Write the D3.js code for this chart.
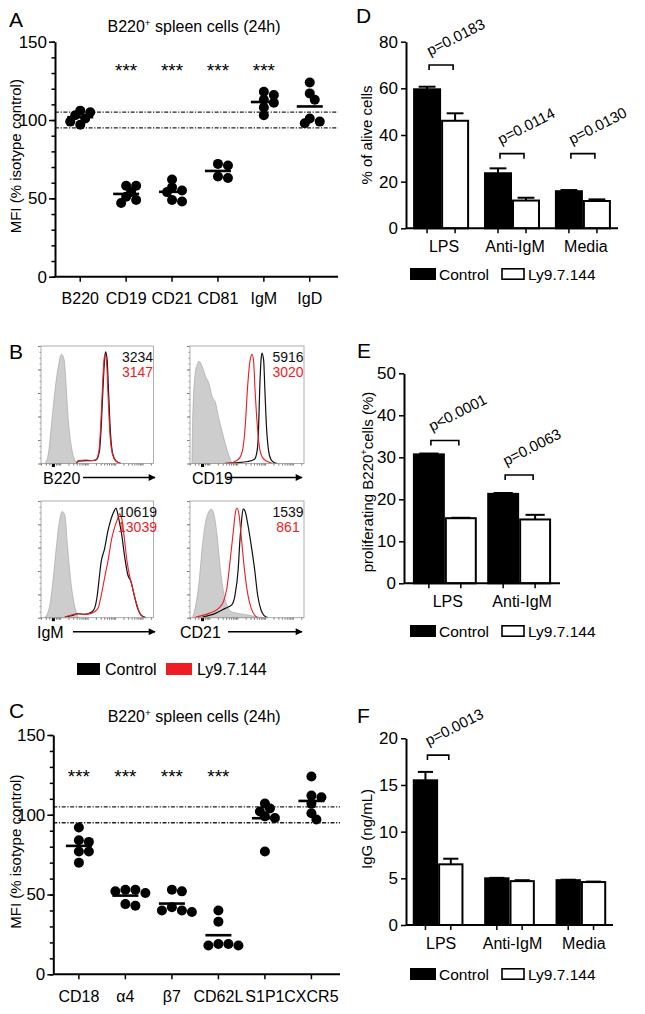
<!DOCTYPE html>
<html><head><meta charset="utf-8">
<script src="https://cdnjs.cloudflare.com/ajax/libs/d3/7.8.5/d3.min.js"></script>
<style>body{margin:0;background:#fff} svg{display:block}</style>
</head><body><svg id="fig" width="645" height="1014"></svg>
<script>
// ---------------- DATA ----------------
const mfiTicks = [0, 50, 100, 150];
const refBand = [95, 105];

const aCats = ["B220", "CD19", "CD21", "CD81", "IgM", "IgD"];
const aValues = [[105,106,103,101,97,99],[58,58,54,51,49,47],[62,57,55,54,49,48],[71,72,63,64],[118,116,113,111,108,103],[124,117,113,101,98,99]];
const aStars = [false, true, true, true, true, false];

const cCats = ["CD18", "α4", "β7", "CD62L", "S1P1", "CXCR5"];
const cValues = [[92,84,83,77,77,70],[53,53,52,51,43,44],[53,52,42,40,39,40],[40,33,19,18,18,19],[107,104,102,99,98,77],[124,111,112,107,101,97]];
const cStars = [true, true, true, true, false, false];

const seriesNames = ["Control", "Ly9.7.144"];

const dGroups = ["LPS", "Anti-IgM", "Media"];
const dCtrl = [59.6, 23.6, 15.9];
const dCtrlErr = [1.1, 2.1, 0.5];
const dLy = [46.1, 11.9, 11.7];
const dLyErr = [3.2, 1.2, 0.7];
const dP = ["p=0.0183", "p=0.0114", "p=0.0130"];
const dBracket = [70, 32, 32];
const dTicks = [0, 20, 40, 60, 80];

const eGroups = ["LPS", "Anti-IgM"];
const eCtrl = [30.7, 21.3];
const eCtrlErr = [0.2, 0.2];
const eLy = [15.5, 15.2];
const eLyErr = [0.1, 1.1];
const eP = ["p<0.0001", "p=0.0063"];
const eBracket = [34, 25.8];
const eTicks = [0, 10, 20, 30, 40, 50];

const fGroups = ["LPS", "Anti-IgM", "Media"];
const fCtrl = [15.5, 5.0, 4.8];
const fCtrlErr = [0.9, 0.05, 0.05];
const fLy = [6.5, 4.7, 4.6];
const fLyErr = [0.6, 0.1, 0.05];
const fP = ["p=0.0013", null, null];
const fBracket = [18.2, null, null];
const fTicks = [0, 5, 10, 15, 20];

// Flow histograms: [fluorescence position (0-100 of axis), % of max]
const histMarkers = ["B220", "CD19", "IgM", "CD21"];
const histCtrlMFI = ["3234", "5916", "10619", "1539"];
const histLyMFI = ["3147", "3020", "13039", "861"];
const isoB220 = [[3.5,0],[6.5,8],[9.4,34],[12.4,62],[15.3,82],[18.2,93],[20.6,88],[22.6,62],[24.1,39],[27.1,14],[30,3],[31.5,1],[33,0]];
const ctrlB220 = [[31.5,0],[33,2],[40,2.5],[45,2.5],[49,3],[52,11],[53.5,31],[55,62],[56.5,88],[57.4,95],[58.8,88],[60,62],[61.8,25],[63.8,8],[66.8,2],[71.2,0]];
const lyB220 = [[31.5,0],[33,2.5],[40,3],[45,2.5],[49,3.5],[51.5,11],[53,31],[54.5,62],[56,88],[57,93],[58.3,86],[59.5,60],[61.3,25],[63.5,8],[66.5,2],[71,0]];
const isoCD19 = [[1.7,0],[2.3,34],[4.6,77],[6.6,85],[8,87],[10.9,82],[13.7,74],[16.6,68],[19.4,57],[22.3,52],[25.1,39],[28,28],[30.9,17],[33.7,8],[36,2],[38,0]];
const ctrlCD19 = [[30,0],[39.4,0.6],[50.9,1.7],[56.6,3.7],[58.9,11],[60,25],[61.1,62],[62.3,88],[63.1,94],[64.6,88],[65.7,62],[67.1,31],[68.9,11],[70.9,3.7],[73.7,0.9],[76.6,0]];
const lyCD19 = [[30,0],[36.6,0.5],[39.4,1.7],[43.7,5],[46.6,14],[48.6,34],[50.3,62],[52.3,85],[53.7,92],[54.3,93],[55.7,88],[57.1,62],[58.9,34],[60.9,14],[63.7,5],[68,1.7],[72.3,0]];
const isoIgM = [[3.5,0],[7.9,11],[10.9,34],[13.8,62],[16.8,85],[18.8,91],[21.2,88],[23.5,62],[25.6,39],[28.5,17],[31.5,4],[32.9,1],[34,0]];
const ctrlIgM = [[21.2,0.6],[27.1,1.7],[32.9,3.4],[38.8,2.9],[44.7,4.6],[47.6,8],[50,19],[52.1,37],[53.5,48],[56.5,59],[59.4,74],[62.4,85],[65.3,92],[66.8,94],[68.2,89],[69.7,82],[71.8,71],[74.1,54],[77.1,37],[80,31],[82.9,19],[85.9,8],[88.8,2.3],[93.2,0]];
const lyIgM = [[21.2,0.6],[27.1,2.3],[32.9,3.4],[38.8,2.9],[44.7,3.7],[50.6,8],[53.5,19],[56.5,34],[59.4,48],[62.9,68],[65.3,77],[68.2,85],[69.7,89],[71.8,85],[74.1,68],[76.5,48],[78.5,37],[81.5,25],[84.4,14],[87.4,5],[90.3,0.9],[93.2,0]];
const isoCD21 = [[2.3,0],[5.1,11],[8,31],[10.9,62],[13.7,82],[16.6,91],[18.9,93],[20.9,89],[23.7,71],[26.6,42],[29.4,22],[32.3,11],[36.6,5],[42.3,3.7],[50.9,2.3],[59.4,0.6],[65.1,0]];
const ctrlCD21 = [[10.9,0.6],[22.3,3.7],[30.9,8],[36.6,11],[39.4,19],[42.3,42],[43.7,65],[45.1,82],[46.6,93],[48,92],[50.9,79],[53.7,62],[56.6,42],[59.4,19],[62.3,6.6],[65.1,1.7],[68,0]];
const lyCD21 = [[5.1,0.6],[16.6,3.7],[25.1,8],[29.4,14],[32.3,25],[35.1,48],[38,74],[40,91],[41.1,94],[42.9,89],[45.1,68],[48,39],[50.9,19],[53.7,8],[56.6,2.3],[59.4,0]];

// ---------------- DRAWING ----------------
const FONT = '"Liberation Sans", Arial, Helvetica, sans-serif';
const RED = "#ee1c24";
const svg = d3.select("#fig").attr("font-family", FONT);
svg.append("rect").attr("width", 645).attr("height", 1014).attr("fill", "#fff");
const defs = svg.append("defs");
defs.append("marker").attr("id", "arr").attr("viewBox", "0 0 10 10").attr("refX", 9).attr("refY", 5)
  .attr("markerWidth", 9).attr("markerHeight", 7).attr("markerUnits", "userSpaceOnUse").attr("orient", "auto")
  .append("path").attr("d", "M0,0 L10,5 L0,10 Z").attr("fill", "#000");

function styleAxis(sel, fs) {
  sel.attr("font-family", FONT).attr("font-size", fs);
  sel.select(".domain").attr("stroke-width", 2).attr("stroke", "#000");
  sel.selectAll(".tick line").attr("stroke-width", 1.5).attr("stroke", "#000");
  sel.selectAll(".tick text").attr("fill", "#000");
}
function letter(t, x, y) {
  svg.append("text").attr("x", x).attr("y", y).attr("font-size", 21).text(t);
}
function supText(g, x, y, fs, before, sup, after, rotate) {
  const t = g.append("text").attr("x", x).attr("y", y).attr("font-size", fs).attr("text-anchor", "middle");
  if (rotate) t.attr("transform", `rotate(-90,${x},${y})`);
  t.append("tspan").text(before);
  t.append("tspan").attr("font-size", fs * 0.62).attr("dy", -fs * 0.4).text(sup);
  t.append("tspan").attr("dy", fs * 0.4).text(after);
  return t;
}
function swarm(ys, step, minD) {
  const order = d3.range(ys.length).sort((a, b) => ys[a] - ys[b]);
  const placed = [], offs = new Array(ys.length);
  order.forEach(i => {
    for (let k = 0; k < 30; k++) {
      const c = k === 0 ? 0 : (k % 2 ? 1 : -1) * Math.ceil(k / 2) * step;
      if (placed.every(p => Math.hypot(p.x - c, p.y - ys[i]) >= minD)) {
        offs[i] = c; placed.push({x: c, y: ys[i]}); break;
      }
    }
  });
  return offs;
}

function dotPanel(o) {
  const g = svg.append("g");
  const x = d3.scaleBand().domain(o.cats).range([o.left, o.right]).paddingInner(0).paddingOuter(0.05);
  const y = d3.scaleLinear().domain([0, 150]).range([o.bottom, o.top]);
  refBand.forEach(v => g.append("line").attr("x1", o.left).attr("x2", o.right + 3)
    .attr("y1", y(v)).attr("y2", y(v)).attr("stroke", "#222").attr("stroke-width", 1.3)
    .attr("stroke-dasharray", "4,1.6,1.2,1.6"));
  g.append("g").attr("transform", `translate(${o.left},0)`)
    .call(d3.axisLeft(y).tickValues(d3.range(0, 151, 10)).tickSize(3.5).tickFormat(""))
    .call(s => { s.select(".domain").remove(); s.selectAll("line").attr("stroke-width", 1.5); });
  const ya = g.append("g").attr("transform", `translate(${o.left},0)`)
    .call(d3.axisLeft(y).tickValues(mfiTicks).tickSize(6).tickSizeOuter(0).tickPadding(2));
  styleAxis(ya, 17);
  const xa = g.append("g").attr("transform", `translate(0,${o.bottom})`)
    .call(d3.axisBottom(x).tickSize(5).tickSizeOuter(0).tickPadding(11));
  styleAxis(xa, 16);
  xa.select(".domain").attr("d", `M${o.left},0H${o.right + 3}`);
  o.values.forEach((vals, i) => {
    const cx = x(o.cats[i]) + x.bandwidth() / 2;
    const ys = vals.map(v => y(v));
    const offs = swarm(ys, 5, 6.5);
    vals.forEach((v, j) => g.append("circle").attr("cx", cx + offs[j]).attr("cy", y(v)).attr("r", 5).attr("fill", "#000"));
    const m = d3.mean(vals);
    g.append("line").attr("x1", cx - 13).attr("x2", cx + 13).attr("y1", y(m)).attr("y2", y(m))
      .attr("stroke", "#000").attr("stroke-width", 2.6);
    if (o.stars[i]) g.append("text").attr("x", cx).attr("y", y(o.starVal)).attr("text-anchor", "middle")
      .attr("font-size", 19).text("***");
  });
  supText(g, (o.left + o.right) / 2 - 1, o.titleY, 16, "B220", "+", " spleen cells (24h)");
  g.append("text").attr("transform", `translate(${o.ylabX},${(o.top + o.bottom) / 2 - 3}) rotate(-90)`)
    .attr("text-anchor", "middle").attr("dy", "0.35em").attr("font-size", 15).text("MFI (% isotype control)");
}

function barPanel(o) {
  const g = svg.append("g");
  const x0 = d3.scaleBand().domain(o.groups).range([o.left, o.right]).paddingInner(o.pi).paddingOuter(o.po);
  const x1 = d3.scaleBand().domain(seriesNames).range([0, x0.bandwidth()]);
  const y = d3.scaleLinear().domain([0, o.yMax]).range([o.bottom, o.top]);
  const bw = x1.bandwidth();
  const series = [[o.ctrl, o.ctrlErr, "#000"], [o.ly, o.lyErr, "#fff"]];
  o.groups.forEach((gr, i) => {
    series.forEach(([vals, errs, fill], s) => {
      const bx = x0(gr) + x1(seriesNames[s]);
      const cx = bx + bw / 2;
      const top = y(vals[i] + errs[i]);
      g.append("line").attr("x1", cx).attr("x2", cx).attr("y1", y(vals[i])).attr("y2", top).attr("stroke", "#000").attr("stroke-width", 2);
      g.append("line").attr("x1", cx - bw * 0.3).attr("x2", cx + bw * 0.3).attr("y1", top).attr("y2", top).attr("stroke", "#000").attr("stroke-width", 2);
      g.append("rect").attr("x", bx + 1).attr("y", y(vals[i])).attr("width", bw - 2).attr("height", y(0) - y(vals[i]))
        .attr("fill", fill).attr("stroke", "#000").attr("stroke-width", 2);
      g.append("line").attr("x1", cx).attr("x2", cx).attr("y1", y(0)).attr("y2", y(0) + 5).attr("stroke", "#000").attr("stroke-width", 1.5);
    });
    g.append("text").attr("x", x0(gr) + x0.bandwidth() / 2 + 3).attr("y", y(0) + 24).attr("text-anchor", "middle")
      .attr("font-size", 16).text(gr);
    if (o.p[i]) {
      const xa = x0(gr) + x1(seriesNames[0]) + bw / 2 + 2;
      const xb = x0(gr) + x1(seriesNames[1]) + bw / 2 - 2;
      const yb = y(o.bracket[i]);
      g.append("path").attr("d", `M${xa},${yb + 5}V${yb}H${xb}V${yb + 5}`).attr("fill", "none").attr("stroke", "#000").attr("stroke-width", 1.6);
      g.append("text").attr("transform", `translate(${xa + 1},${yb - 9}) rotate(-27)`).attr("font-size", 15).text(o.p[i]);
    }
  });
  const ya = g.append("g").attr("transform", `translate(${o.left},0)`)
    .call(d3.axisLeft(y).tickValues(o.ticks).tickSize(5).tickSizeOuter(0).tickPadding(3));
  styleAxis(ya, 17);
  g.append("line").attr("x1", o.left).attr("x2", o.right).attr("y1", y(0)).attr("y2", y(0)).attr("stroke", "#000").attr("stroke-width", 2);
  const ly = o.legendY;
  g.append("rect").attr("x", 410).attr("y", ly).attr("width", 26).attr("height", 12).attr("fill", "#000");
  g.append("text").attr("x", 439).attr("y", ly + 12).attr("font-size", 15.5).text(seriesNames[0]);
  g.append("rect").attr("x", 502).attr("y", ly + 0.8).attr("width", 22).attr("height", 10.4).attr("fill", "#fff").attr("stroke", "#000").attr("stroke-width", 1.6);
  g.append("text").attr("x", 528).attr("y", ly + 12).attr("font-size", 15.5).text(seriesNames[1]);
  return g;
}

function histPanel(o) {
  const g = svg.append("g");
  const x = d3.scaleLinear().domain([0, 100]).range([o.x0, o.x1]);
  const y = d3.scaleLinear().domain([0, 100]).range([o.y1, o.y0]);
  const area = d3.area().x(d => x(d[0])).y0(y(0)).y1(d => y(d[1])).curve(d3.curveMonotoneX);
  const line = d3.line().x(d => x(d[0])).y(d => y(d[1])).curve(d3.curveMonotoneX);
  g.append("path").datum(o.iso).attr("d", area).attr("fill", "#cdcdcd").attr("stroke", "#a8a8a8").attr("stroke-width", 0.7);
  g.append("path").datum(o.ctrl).attr("d", line).attr("fill", "none").attr("stroke", "#111").attr("stroke-width", 1.2);
  g.append("path").datum(o.ly).attr("d", line).attr("fill", "none").attr("stroke", RED).attr("stroke-width", 1.1);
  g.append("rect").attr("x", o.x0).attr("y", o.y0).attr("width", o.x1 - o.x0).attr("height", o.y1 - o.y0)
    .attr("fill", "none").attr("stroke", "#9a9a9a").attr("stroke-width", 0.8);
  g.append("g").attr("transform", `translate(${o.x0},0)`)
    .call(d3.axisLeft(y).tickValues(d3.range(0, 101, 20)).tickSize(3).tickFormat(""))
    .call(s => { s.select(".domain").remove(); s.selectAll("line").attr("stroke", "#777"); });
  g.append("g").attr("transform", `translate(${o.x0},0)`)
    .call(d3.axisLeft(y).tickValues(d3.range(0, 101, 5)).tickSize(1.5).tickFormat(""))
    .call(s => { s.select(".domain").remove(); s.selectAll("line").attr("stroke", "#999"); });
  const lx = d3.scaleLog().domain([20, 250000]).range([o.x0, o.x1]);
  g.append("g").attr("transform", `translate(0,${o.y1})`)
    .call(d3.axisBottom(lx).ticks(20).tickSize(2).tickFormat(""))
    .call(s => { s.select(".domain").remove(); s.selectAll("line").attr("stroke", "#777"); });
  g.append("rect").attr("x", x(11) - 1.5).attr("y", o.y1 + 0.5).attr("width", 3).attr("height", 3).attr("fill", "#000");
  g.append("text").attr("x", o.x1 - 16).attr("y", o.y0 + 15.5).attr("text-anchor", "middle").attr("font-size", 14).attr("fill", "#111").text(o.ctrlMFI);
  g.append("text").attr("x", o.x1 - 16).attr("y", o.y0 + 31).attr("text-anchor", "middle").attr("font-size", 14).attr("fill", RED).text(o.lyMFI);
  g.append("text").attr("x", o.labX).attr("y", o.y1 + 20).attr("font-size", 16).text(o.marker);
  g.append("line").attr("x1", o.arX0).attr("x2", o.arX1).attr("y1", o.y1 + 14).attr("y2", o.y1 + 14)
    .attr("stroke", "#000").attr("stroke-width", 1.6).attr("marker-end", "url(#arr)");
}

// Panel A
letter("A", 9, 27);
dotPanel({cats: aCats, values: aValues, stars: aStars, left: 55, right: 335, top: 41.7, bottom: 276.7,
  starVal: 127.6, titleY: 32, ylabX: 16});

// Panel C
letter("C", 9, 718);
dotPanel({cats: cCats, values: cValues, stars: cStars, left: 53.3, right: 337, top: 735, bottom: 974.3,
  starVal: 119.7, titleY: 722, ylabX: 16});

// Panel B
letter("B", 9, 359);
const histIso = [isoB220, isoCD19, isoIgM, isoCD21];
const histCtrl = [ctrlB220, ctrlCD19, ctrlIgM, ctrlCD21];
const histLy = [lyB220, lyCD19, lyIgM, lyCD21];
const histLayout = [
  {x0: 41, x1: 153.5, y0: 346, y1: 463.5, labX: 43, arX0: 83, arX1: 155},
  {x0: 190, x1: 304, y0: 346, y1: 463.5, labX: 192, arX0: 227, arX1: 302},
  {x0: 41, x1: 153.5, y0: 501, y1: 617.7, labX: 37, arX0: 73, arX1: 155},
  {x0: 190, x1: 304, y0: 501, y1: 617.7, labX: 180, arX0: 228, arX1: 302}
];
histLayout.forEach((L, i) => histPanel(Object.assign({}, L, {
  iso: histIso[i], ctrl: histCtrl[i], ly: histLy[i], marker: histMarkers[i],
  ctrlMFI: histCtrlMFI[i], lyMFI: histLyMFI[i]})));
svg.append("rect").attr("x", 77).attr("y", 663).attr("width", 23).attr("height", 12).attr("fill", "#000");
svg.append("text").attr("x", 105).attr("y", 675).attr("font-size", 16).text(seriesNames[0]);
svg.append("rect").attr("x", 166).attr("y", 663).attr("width", 26).attr("height", 12).attr("fill", RED);
svg.append("text").attr("x", 197).attr("y", 675).attr("font-size", 16).text(seriesNames[1]);

// Panel D
letter("D", 356, 23);
const gD = barPanel({groups: dGroups, ctrl: dCtrl, ctrlErr: dCtrlErr, ly: dLy, lyErr: dLyErr, p: dP, bracket: dBracket,
  ticks: dTicks, yMax: 80, left: 406, right: 618, top: 41.7, bottom: 228.3, pi: 0.21, po: 0.1, legendY: 268});
gD.append("text").attr("transform", `translate(367,135) rotate(-90)`).attr("text-anchor", "middle").attr("dy", "0.35em")
  .attr("font-size", 15).text("% of alive cells");

// Panel E
letter("E", 357, 358);
const gE = barPanel({groups: eGroups, ctrl: eCtrl, ctrlErr: eCtrlErr, ly: eLy, lyErr: eLyErr, p: eP, bracket: eBracket,
  ticks: eTicks, yMax: 50, left: 404, right: 560, top: 373.3, bottom: 583.3, pi: 0.14, po: 0.12, legendY: 625});
supText(gE, 373, 482, 15, "proliferating B220", "+", "cells (%)", true);

// Panel F
letter("F", 357, 723);
const gF = barPanel({groups: fGroups, ctrl: fCtrl, ctrlErr: fCtrlErr, ly: fLy, lyErr: fLyErr, p: fP, bracket: fBracket,
  ticks: fTicks, yMax: 20, left: 406, right: 613, top: 738.3, bottom: 925, pi: 0.29, po: 0.095, legendY: 968});
gF.append("text").attr("transform", `translate(367,829) rotate(-90)`).attr("text-anchor", "middle").attr("dy", "0.35em")
  .attr("font-size", 15).text("IgG (ng/mL)");
</script></body></html>
